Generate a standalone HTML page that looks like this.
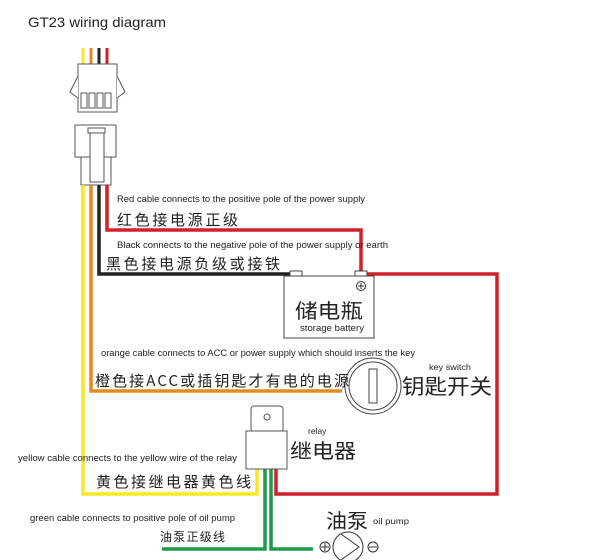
<!DOCTYPE html>
<html><head><meta charset="utf-8"><style>
html,body{margin:0;padding:0;background:#fff;}
svg{display:block;}
text{font-family:"Liberation Sans","Noto Sans CJK SC",sans-serif;fill:#222;}
.cn{font-family:"Noto Sans CJK SC","WenQuanYi Zen Hei",sans-serif;}
</style></head><body>
<svg width="604" height="560" viewBox="0 0 604 560" xmlns="http://www.w3.org/2000/svg">
<text x="28" y="27" font-size="14" fill="#111" textLength="138" lengthAdjust="spacingAndGlyphs">GT23 wiring diagram</text>

<g stroke-width="3" fill="none">
<line x1="83" y1="48" x2="83" y2="64" stroke="#f5e829"/>
<line x1="91" y1="48" x2="91" y2="64" stroke="#e08a28"/>
<line x1="99" y1="48" x2="99" y2="64" stroke="#222"/>
<line x1="107" y1="48" x2="107" y2="64" stroke="#d0202a"/>
</g>
<g fill="#fff" stroke="#555" stroke-width="1">
<rect x="78" y="64" width="39" height="48"/>
<polyline points="78,76 70,92 78,98"/>
<polyline points="117,76 125,92 117,98"/>
<rect x="81" y="93" width="6" height="15"/>
<rect x="89" y="93" width="6" height="15"/>
<rect x="97" y="93" width="6" height="15"/>
<rect x="105" y="93" width="6" height="15"/>
<rect x="75" y="125" width="41" height="32"/>
<rect x="81" y="157" width="30" height="28"/>
<rect x="90" y="130" width="14" height="52"/>
<rect x="88" y="128" width="17" height="5"/>
</g>

<g fill="none" stroke-width="3.5" stroke-linejoin="miter">
<polyline points="83,185 83,494 257,494 257,469" stroke="#f5e829"/>
<polyline points="91,185 91,391 342,391" stroke="#e08a28"/>
<polyline points="99,185 99,274 292,274" stroke="#222"/>
<polyline points="107,185 107,230 361,230 361,272" stroke="#d0202a"/>
<polyline points="364,274 497,274 497,494 276,494 276,469" stroke="#d0202a"/>
<polyline points="265,469 265,549 162,549" stroke="#1e9a4a"/>
<polyline points="271,469 271,549 313,549" stroke="#1e9a4a"/>
</g>

<rect x="284" y="276" width="90" height="62" fill="#fff" stroke="#444"/>
<rect x="290" y="271" width="12" height="5" fill="#fff" stroke="#444"/>
<rect x="355" y="271" width="12" height="5" fill="#fff" stroke="#444"/>
<circle cx="361" cy="286" r="4.5" fill="none" stroke="#333"/>
<path d="M358,286h6M361,283v6" stroke="#333"/>
<text x="295" y="318" font-size="20" class="cn" textLength="68" lengthAdjust="spacingAndGlyphs">储电瓶</text>
<text x="300" y="331" font-size="9" textLength="64" lengthAdjust="spacingAndGlyphs">storage battery</text>

<circle cx="373" cy="386" r="28" fill="#fff" stroke="#444"/>
<circle cx="373" cy="386" r="24" fill="none" stroke="#444"/>
<rect x="369" y="369" width="8" height="34" fill="#fff" stroke="#444"/>
<text x="429" y="370" font-size="8.5" textLength="42" lengthAdjust="spacingAndGlyphs">key switch</text>
<text x="402" y="394" font-size="21" class="cn" textLength="90" lengthAdjust="spacingAndGlyphs">钥匙开关</text>

<rect x="251" y="406" width="32" height="26" rx="3" fill="#fff" stroke="#555"/>
<circle cx="267" cy="417" r="3" fill="none" stroke="#555"/>
<rect x="246" y="431" width="41" height="38" fill="#fff" stroke="#555"/>
<text x="308" y="434" font-size="8.5">relay</text>
<text x="290" y="458" font-size="20" class="cn" textLength="66" lengthAdjust="spacingAndGlyphs">继电器</text>

<circle cx="348" cy="547" r="15" fill="#fff" stroke="#333"/>
<polyline points="341,534 359,547 341,560" fill="none" stroke="#333"/>
<circle cx="325" cy="547" r="5" fill="none" stroke="#333"/>
<path d="M321,547h8M325,543v8" stroke="#333"/>
<circle cx="373" cy="547" r="5" fill="none" stroke="#333"/>
<path d="M369,547h8" stroke="#333"/>
<text x="326" y="528" font-size="20" class="cn" textLength="42" lengthAdjust="spacingAndGlyphs">油泵</text>
<text x="373" y="524" font-size="8.5" textLength="36" lengthAdjust="spacingAndGlyphs">oil pump</text>

<text x="117" y="202" font-size="9" textLength="248" lengthAdjust="spacingAndGlyphs">Red cable connects to the positive pole of the power supply</text>
<text x="117" y="225" font-size="15" class="cn" textLength="121" lengthAdjust="spacing">红色接电源正级</text>
<text x="117" y="248" font-size="9" textLength="271" lengthAdjust="spacingAndGlyphs">Black connects to the negative pole of the power supply or earth</text>
<text x="106" y="269" font-size="15" class="cn" textLength="174" lengthAdjust="spacing">黑色接电源负级或接铁</text>
<text x="101" y="356" font-size="9" textLength="314" lengthAdjust="spacingAndGlyphs">orange cable connects to ACC or power supply which should inserts the key</text>
<text x="95" y="386" font-size="15" class="cn" textLength="254" lengthAdjust="spacing">橙色接ACC或插钥匙才有电的电源</text>
<text x="18" y="461" font-size="9" textLength="219" lengthAdjust="spacingAndGlyphs">yellow cable connects to the yellow wire of the relay</text>
<text x="96" y="487" font-size="15" class="cn" textLength="155" lengthAdjust="spacing">黄色接继电器黄色线</text>
<text x="30" y="521" font-size="9" textLength="205" lengthAdjust="spacingAndGlyphs">green cable connects to positive pole of oil pump</text>
<text x="160" y="541" font-size="12" class="cn" textLength="65" lengthAdjust="spacing">油泵正级线</text>
</svg>
</body></html>
